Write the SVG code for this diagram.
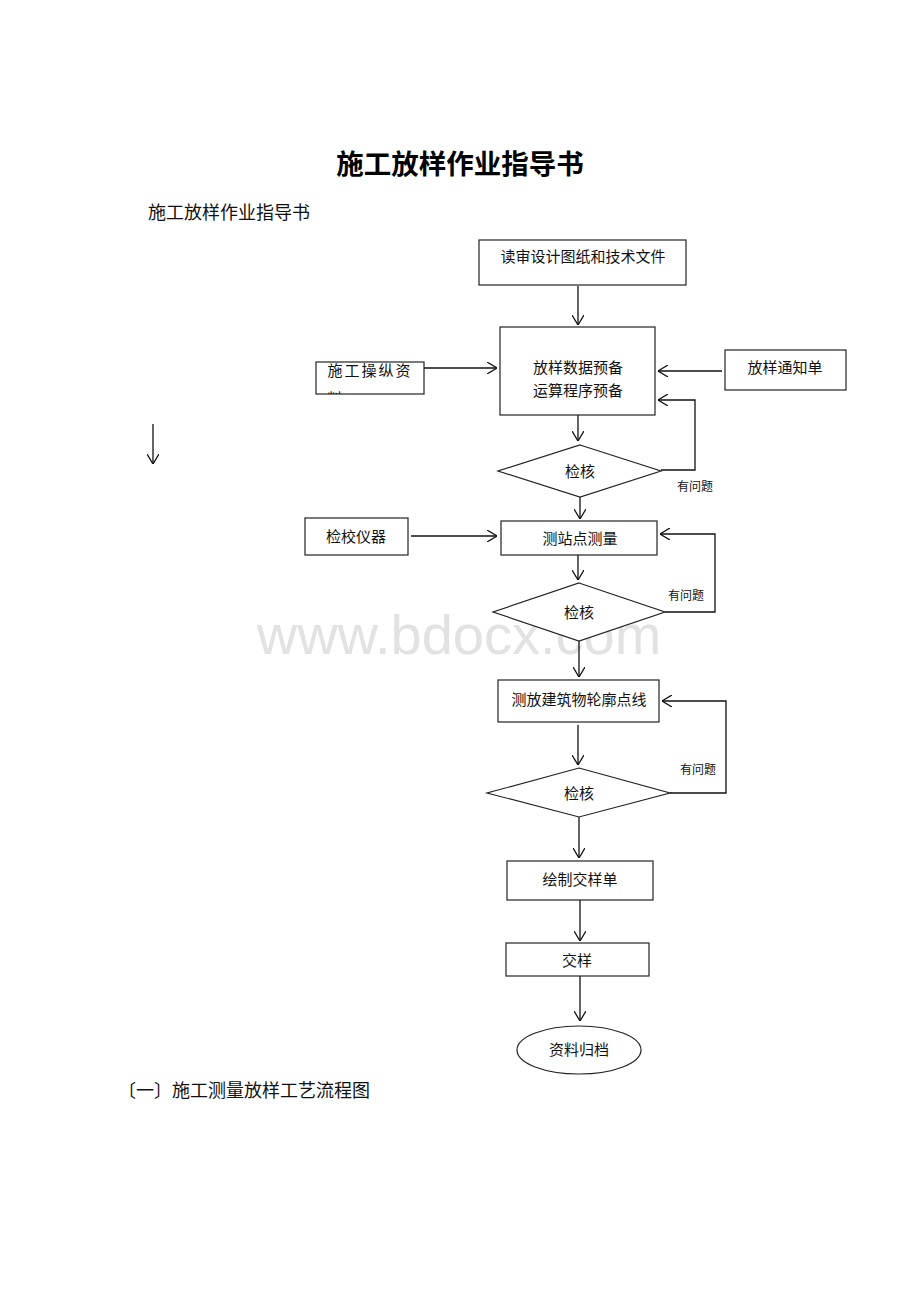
<svg xmlns="http://www.w3.org/2000/svg" width="920" height="1302" viewBox="0 0 920 1302">
<style>
.box{fill:#fff;stroke:#222;stroke-width:1.2}
.ln{fill:none;stroke:#111;stroke-width:1.3}
.t{font-family:"Noto Sans CJK SC","Liberation Sans",sans-serif;font-size:15px;fill:#111;text-anchor:middle}
.s{font-family:"Noto Sans CJK SC","Liberation Sans",sans-serif;font-size:12px;fill:#111}
.doc{font-family:"Noto Sans CJK SC","Liberation Serif",serif;font-size:18px;fill:#111}
</style>
<defs>
<marker id="ah" viewBox="0 0 10 12" refX="10" refY="6" markerWidth="10" markerHeight="12" markerUnits="userSpaceOnUse" orient="auto">
<path d="M0,0 L10,6 L0,12" fill="none" stroke="#111" stroke-width="1.3"/>
</marker>
<clipPath id="clipL"><rect x="316" y="362" width="108" height="32"/></clipPath>
</defs>
<rect width="920" height="1302" fill="#fff"/>
<text x="460" y="174" font-family="'Noto Sans CJK SC',sans-serif" font-size="27.5" font-weight="bold" text-anchor="middle" fill="#000">施工放样作业指导书</text>
<text class="doc" x="148" y="219">施工放样作业指导书</text>
<text x="459" y="654" font-family="'Liberation Sans',sans-serif" font-size="56" fill="#e2e2e2" text-anchor="middle">www.bdocx.com</text>

<g id="connectors">
<line class="ln" x1="578" y1="286" x2="578" y2="325" marker-end="url(#ah)"/>
<line class="ln" x1="424" y1="368" x2="497" y2="368" marker-end="url(#ah)"/>
<line class="ln" x1="722" y1="371" x2="658" y2="371" marker-end="url(#ah)"/>
<polyline class="ln" points="661,470 695,470 695,400 658,400" marker-end="url(#ah)"/>
<line class="ln" x1="578" y1="415" x2="578" y2="441" marker-end="url(#ah)"/>
<line class="ln" x1="580" y1="497" x2="580" y2="519" marker-end="url(#ah)"/>
<line class="ln" x1="411" y1="536" x2="497" y2="536" marker-end="url(#ah)"/>
<polyline class="ln" points="665,612 715,612 715,534 660,534" marker-end="url(#ah)"/>
<line class="ln" x1="578" y1="555" x2="578" y2="580" marker-end="url(#ah)"/>
<line class="ln" x1="579" y1="641" x2="579" y2="677" marker-end="url(#ah)"/>
<polyline class="ln" points="670,793 726,793 726,701 662,701" marker-end="url(#ah)"/>
<line class="ln" x1="578" y1="725" x2="578" y2="765" marker-end="url(#ah)"/>
<line class="ln" x1="579" y1="817" x2="579" y2="858" marker-end="url(#ah)"/>
<line class="ln" x1="580" y1="900" x2="580" y2="941" marker-end="url(#ah)"/>
<line class="ln" x1="580" y1="976" x2="580" y2="1021" marker-end="url(#ah)"/>
<line class="ln" x1="153" y1="424" x2="153" y2="464" marker-end="url(#ah)"/>
<text class="s" x="677" y="491">有问题</text>
<text class="s" x="668" y="600">有问题</text>
<text class="s" x="680" y="774">有问题</text>
</g>

<g id="n_read"><rect class="box" x="479" y="240" width="207" height="45"/><text class="t" x="583" y="262">读审设计图纸和技术文件</text></g>
<g id="n_prep"><rect class="box" x="500" y="327" width="155" height="88"/><text class="t" x="578" y="373">放样数据预备</text><text class="t" x="578" y="396">运算程序预备</text></g>
<g id="n_ctrl"><rect class="box" x="316" y="362" width="108" height="32"/><g clip-path="url(#clipL)"><text class="t" x="370" y="376" letter-spacing="2">施工操纵资</text><text class="t" x="335" y="404">料</text></g></g>
<g id="n_notice"><rect class="box" x="725" y="350" width="121" height="40"/><text class="t" x="785" y="373">放样通知单</text></g>
<g id="n_check1"><polygon class="box" points="580,445 661,471 580,497 498,471"/><text class="t" x="580" y="477">检核</text></g>
<g id="n_calib"><rect class="box" x="305" y="518" width="103" height="37"/><text class="t" x="356" y="542">检校仪器</text></g>
<g id="n_station"><rect class="box" x="501" y="521" width="156" height="34"/><text class="t" x="580" y="544">测站点测量</text></g>
<g id="n_check2"><polygon class="box" points="579,583 665,612 579,641 493,612"/><text class="t" x="579" y="618">检核</text></g>
<g id="n_outline"><rect class="box" x="498" y="680" width="161" height="42"/><text class="t" x="579" y="705">测放建筑物轮廓点线</text></g>
<g id="n_check3"><polygon class="box" points="579,768 670,793 579,817 487,793"/><text class="t" x="579" y="799">检核</text></g>
<g id="n_draw"><rect class="box" x="507" y="861" width="146" height="39"/><text class="t" x="580" y="885">绘制交样单</text></g>
<g id="n_hand"><rect class="box" x="506" y="943" width="143" height="33"/><text class="t" x="577" y="966">交样</text></g>
<g id="n_archive"><ellipse class="box" cx="579" cy="1050" rx="62" ry="24"/><text class="t" x="579" y="1055">资料归档</text></g>

<text class="doc" x="118" y="1097">〔一〕施工测量放样工艺流程图</text>
</svg>
